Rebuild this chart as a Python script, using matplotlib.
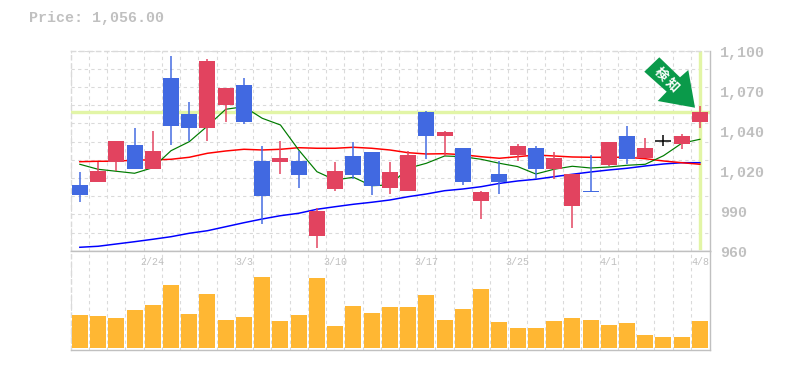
import matplotlib
matplotlib.use("Agg")
import matplotlib.pyplot as plt
import numpy as np
from matplotlib.patches import Polygon

W, H = 785, 370

opens = [1005, 1007, 1021, 1033, 1016, 1080, 1055, 1045, 1061, 1075, 1022, 1021, 1022, 969, 1002, 1025, 1028, 1003,
         1001, 1056, 1039, 1031, 994, 1013, 1026, 1031, 1016, 990, 1001, 1019, 1039, 1024, 1036, 1034, 1049]
closes = [998, 1015, 1036, 1016, 1029, 1046, 1045, 1092, 1073, 1049, 997, 1024, 1012, 987, 1015, 1012, 1004, 1014,
          1026, 1039, 1042, 1007, 1000, 1007, 1032, 1016, 1024, 1013, 1000, 1035, 1023, 1031, 1036, 1039, 1056]
highs = [1014, 1021, 1036, 1045, 1043, 1095, 1063, 1093, 1073, 1080, 1032, 1036, 1029, 989, 1021, 1035, 1028, 1021,
         1029, 1057, 1043, 1031, 1001, 1022, 1034, 1032, 1028, 1013, 1026, 1035, 1046, 1038, 1040, 1041, 1060]
lows = [993, 1007, 1015, 1016, 1016, 1033, 1036, 1036, 1049, 1048, 978, 1013, 1003, 961, 1001, 1009, 998, 999,
        1001, 1023, 1025, 1005, 981, 999, 1022, 1009, 1009, 975, 1000, 1018, 1020, 1024, 1032, 1030, 1045]

ma_short = [1019.5, 1016, 1014.6, 1013.2, 1017.1, 1029, 1035.3, 1046.3, 1058, 1059.8, 1051.7, 1047, 1029.5, 1014.3,
            1008.5, 1010.4, 1004.5, 1005, 1016.7, 1020.2, 1025.3, 1024.8, 1023, 1020.2, 1017.9, 1012.7, 1016, 1018.1,
            1016.9, 1017.6, 1018.8, 1019.5, 1025.5, 1034.2, 1037]
ma_mid = [1021.3, 1021.6, 1021.6, 1022.5, 1022.5, 1023, 1024.4, 1027.2, 1028.8, 1030, 1029.5, 1030, 1031.1, 1030.7,
          1030.7, 1031.4, 1030.7, 1029.5, 1027.6, 1026.7, 1026.9, 1026.2, 1024.8, 1023.7, 1024.8, 1026, 1025.3, 1024.6,
          1024.4, 1024.4, 1024.4, 1023.4, 1021.8, 1020.6, 1019.5]
ma_long = [961.4, 962.1, 963.7, 965.3, 967, 968.8, 971.2, 973, 975.8, 978.6, 981.2, 983.5, 985.2, 988, 989.8, 991.5,
           992.9, 994.5, 996.8, 998.7, 1001, 1002.2, 1003.8, 1006.1, 1007.8, 1009, 1010.8, 1012.5, 1014.1, 1015.5,
           1016.7, 1018.3, 1019.7, 1020.6, 1020.6]

volume = [33, 32, 30, 38, 43, 63, 34, 54, 28, 31, 71, 27, 33, 70, 22, 42, 35, 41,
          41, 53, 28, 39, 59, 26, 20, 20, 27, 30, 28, 23, 25, 13, 11, 11, 27]

date_pos = [4, 9, 14, 19, 24, 29, 34]
date_labels = ["2/24", "3/3", "3/10", "3/17", "3/25", "4/1", "4/8"]
price_ticks = [1100, 1072, 1044, 1016, 988, 960]
price_labels = ["1,100", "1,070", "1,040", "1,020", "990", "960"]
last_price = 1056
title = "Price: 1,056.00"

UP = "#e2435f"
DOWN = "#4169e1"
GREY = "#c0c0c0"
GRID = "#dadada"
MARKER = "#e2f5a6"
px = 0.72  # one pixel in points at dpi 100

plt.rcParams["font.family"] = ["Liberation Mono", "Noto Sans CJK JP"]

fig = plt.figure(figsize=(W / 100, H / 100), dpi=100)


def axes_box(x0, y0, x1, y1):
    return [x0 / W, 1 - y1 / H, (x1 - x0) / W, (y1 - y0) / H]


ax = fig.add_axes(axes_box(70.7, 50.7, 710, 250.7))
vol = fig.add_axes(axes_box(70.7, 250.7, 710, 350))

n = len(opens)
x = np.arange(n)
body_w = 16 / 18.24

for a in (ax, vol):
    a.set_xlim(-0.5, 34.55)
    a.set_xticks(np.arange(n) - 0.5)
    a.tick_params(length=0, labelbottom=False, labelleft=False)
    a.grid(True, color=GRID, linestyle=(0, (3, 3)), linewidth=px * 1.1)
    a.set_axisbelow(True)
    for side in ("left", "right", "top", "bottom"):
        a.spines[side].set_color(GREY)
        a.spines[side].set_linewidth(1.0)
    a.spines["left"].set_color(GRID)
    a.spines["left"].set_linestyle((0, (3, 3)))

ax.set_ylim(959, 1099)
ax.set_yticks(np.linspace(959, 1099, 12))
ax.spines["top"].set_color(GRID)
ax.spines["top"].set_linestyle((0, (3, 3)))
vol.set_ylim(-2, 97.3)
vol.set_yticks([])
vol.grid(False, axis="y")

# marker lines for the latest price
ax.axhline(last_price, color=MARKER, linewidth=3.4 * px, zorder=1.5)
ax.plot([x[-1], x[-1]], [961, 1099], color=MARKER, linewidth=3.4 * px, zorder=1.5)

ax.plot(x, ma_long, color="#0000ff", linewidth=1.5 * px, zorder=2)
ax.plot(x, ma_mid, color="#ff0000", linewidth=1.5 * px, zorder=2)
ax.plot(x, ma_short, color="#007b00", linewidth=1.2 * px, zorder=2)

for i in range(n):
    if closes[i] == opens[i]:
        c = "black"
    elif closes[i] > opens[i]:
        c = UP
    else:
        c = DOWN
    ax.vlines(x[i], lows[i], highs[i], color=c, linewidth=1.5 * px, zorder=3)
    if closes[i] == opens[i]:
        ax.hlines(opens[i], x[i] - body_w / 2, x[i] + body_w / 2, color=c, linewidth=1.5 * px, zorder=3)
    else:
        ax.bar(x[i], abs(closes[i] - opens[i]), body_w, bottom=min(opens[i], closes[i]), color=c, zorder=3)

vol.bar(x, volume, body_w, color="#ffb733", zorder=3)

for pos, lab in zip(date_pos, date_labels):
    vol.annotate(lab, xy=(pos, 1), xycoords=vol.get_xaxis_transform(), xytext=(0, -11.5),
                 textcoords="offset pixels", ha="center", va="center", fontsize=7.2, color=GREY)

for val, lab in zip(price_ticks, price_labels):
    ax.annotate(lab, xy=(1, val), xycoords=ax.get_yaxis_transform(), xytext=(10, -4),
                textcoords="offset pixels", ha="left", va="center", fontsize=10.8, color=GREY,
                fontweight="bold", annotation_clip=False)

fig.text(29 / W, 1 - 18 / H, title, ha="left", va="center", fontsize=10.8, color=GREY, fontweight="bold")

# green arrow badge, in figure pixels
arrow_px = [(644.3, 71.7), (659.3, 57.3), (680, 77.3), (688.3, 70), (695, 107.7), (657.7, 101), (666.7, 91.7)]
fig.add_artist(Polygon([(a / W, 1 - b / H) for a, b in arrow_px], closed=True, transform=fig.transFigure,
                       facecolor="#0a9a4a", edgecolor="none", zorder=5))
for ch, cx, cy in [("検", 660.7, 74.3), ("知", 672.7, 85)]:
    fig.text(cx / W, 1 - cy / H, ch, rotation=-45, rotation_mode="anchor", ha="center", va="center",
             fontsize=9.5, fontweight="bold", color="white", zorder=6, family=["Noto Sans CJK JP", "DejaVu Sans"])

fig.savefig("out.png", dpi=100)
